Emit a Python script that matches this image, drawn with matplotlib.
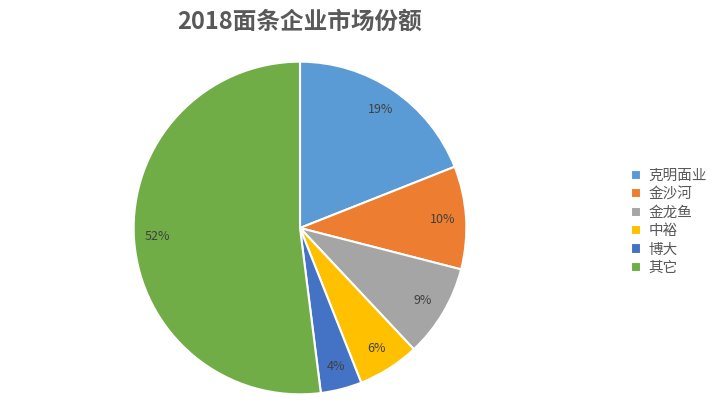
import matplotlib
matplotlib.use("Agg")
import matplotlib.pyplot as plt

plt.rcParams['font.family'] = ['Noto Sans CJK SC', 'DejaVu Sans']

categories = ["克明面业", "金沙河", "金龙鱼", "中裕", "博大", "其它"]
values = [19, 10, 9, 6, 4, 52]
colors = ["#5B9BD5", "#ED7D31", "#A5A5A5", "#FFC000", "#4472C4", "#70AD47"]

fig = plt.figure(figsize=(7.21, 4.11), dpi=100)
ax = fig.add_axes([132/721, 15/411, 336/721, 336/411])
wedges, texts, autotexts = ax.pie(values, colors=colors, startangle=90, counterclock=False,
                                  autopct=lambda p: f"{p:.0f}%", pctdistance=0.86,
                                  wedgeprops=dict(edgecolor="white", linewidth=1.5),
                                  textprops=dict(fontsize=9, color="#404040"))
ax.set_aspect('equal')
ax.set_xlim(-1.01, 1.01)
ax.set_ylim(-1.01, 1.01)
fig.text(300/721, 1 - 22/411, "2018面条企业市场份额", ha="center", va="center",
         fontsize=17, fontweight="bold", color="#595959")
fig.legend(wedges, categories, loc="center left", bbox_to_anchor=(618/721, 1 - 222/411),
           frameon=False, fontsize=10.5, handlelength=0.7, handleheight=0.7,
           labelspacing=0.3, handletextpad=0.5, labelcolor="#595959")
fig.savefig("out.png", dpi=100)
